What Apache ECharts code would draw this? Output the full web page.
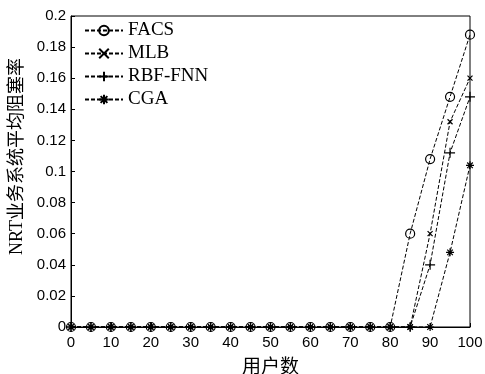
<!DOCTYPE html>
<html><head><meta charset="utf-8">
<script src="https://cdn.jsdelivr.net/npm/echarts@6/dist/echarts.min.js"></script>
<style>html,body{margin:0;padding:0;background:#fff}#c{width:485px;height:374px}</style>
</head><body><div id="c"></div>
<script>
const users = [0,5,10,15,20,25,30,35,40,45,50,55,60,65,70,75,80,85,90,95,100];
const facs   = [0,0,0,0,0,0,0,0,0,0,0,0,0,0,0,0,0,0.060,0.108,0.148,0.188];
const mlb    = [0,0,0,0,0,0,0,0,0,0,0,0,0,0,0,0,0,0,0.060,0.132,0.160];
const rbfFnn = [0,0,0,0,0,0,0,0,0,0,0,0,0,0,0,0,0,0,0.040,0.112,0.148];
const cga    = [0,0,0,0,0,0,0,0,0,0,0,0,0,0,0,0,0,0,0,0.048,0.104];
const seriesNames = ['FACS','MLB','RBF-FNN','CGA'];
const yTicks = ['0','0.02','0.04','0.06','0.08','0.1','0.12','0.14','0.16','0.18','0.2'];

const symX = 'path://M0,0L10,10M10,0L0,10';
const symPlus = 'path://M0,5L10,5M5,0L5,10';
const symStar = 'path://M0,5L10,5M5,0L5,10M1.5,1.5L8.5,8.5M8.5,1.5L1.5,8.5';

function mk(name, vals, symbol, size, fill) {
  return {
    name, type: 'line', data: users.map((u,i)=>[u, vals[i]]),
    symbol, symbolSize: size, showSymbol: true,
    lineStyle: {color:'#000', width:1, type:[4,2]},
    itemStyle: {color: fill, borderColor:'#000', borderWidth: 1.2},
    emphasis: {disabled: true}, animation: false
  };
}
const chart = echarts.init(document.getElementById('c'));
chart.setOption({
  animation: false,
  backgroundColor: '#fff',
  grid: {left: 71, right: 15, top: 16, bottom: 47, outerBoundsMode: 'none', containLabel: false,
    show: true, borderColor: '#000', borderWidth: 1, backgroundColor: 'transparent'},
  legend: {
    left: 79, top: 16, orient: 'vertical', itemWidth: 38, itemHeight: 12, itemGap: 4,
    textStyle: {fontFamily: 'Liberation Serif', fontSize: 19, color: '#000'},
    data: seriesNames
  },
  xAxis: {
    type: 'value', min: 0, max: 100, interval: 10,
    name: '用户数', nameLocation: 'middle', nameGap: 29,
    nameTextStyle: {fontFamily: 'Noto Sans CJK SC', fontSize: 19, color: '#000'},
    axisLine: {lineStyle: {color: '#000'}},
    axisTick: {inside: true, length: 4, lineStyle: {color: '#000'}},
    axisLabel: {fontFamily: 'Liberation Sans', fontSize: 15, color: '#000', margin: 8},
    splitLine: {show: false}
  },
  yAxis: {
    type: 'value', min: 0, max: 0.2, interval: 0.02,
    name: 'NRT业务系统平均阻塞率', nameLocation: 'middle', nameGap: 33,
    nameTextStyle: {fontFamily: 'Liberation Serif, Noto Sans CJK SC', fontSize: 18, color: '#000',
      padding: [0, 0, 0, 30]},
    axisLine: {lineStyle: {color: '#000'}},
    axisTick: {inside: true, length: 4, lineStyle: {color: '#000'}},
    axisLabel: {fontFamily: 'Liberation Sans', fontSize: 15, color: '#000', margin: 5,
      formatter: v => yTicks[Math.round(v/0.02)]},
    splitLine: {show: false}
  },
  series: [
    mk('FACS', facs, 'circle', 9, 'rgba(255,255,255,0)'),
    mk('MLB', mlb, symX, 5, 'none'),
    mk('RBF-FNN', rbfFnn, symPlus, 10, 'none'),
    mk('CGA', cga, symStar, 8, 'none')
  ]
});
</script></body></html>
